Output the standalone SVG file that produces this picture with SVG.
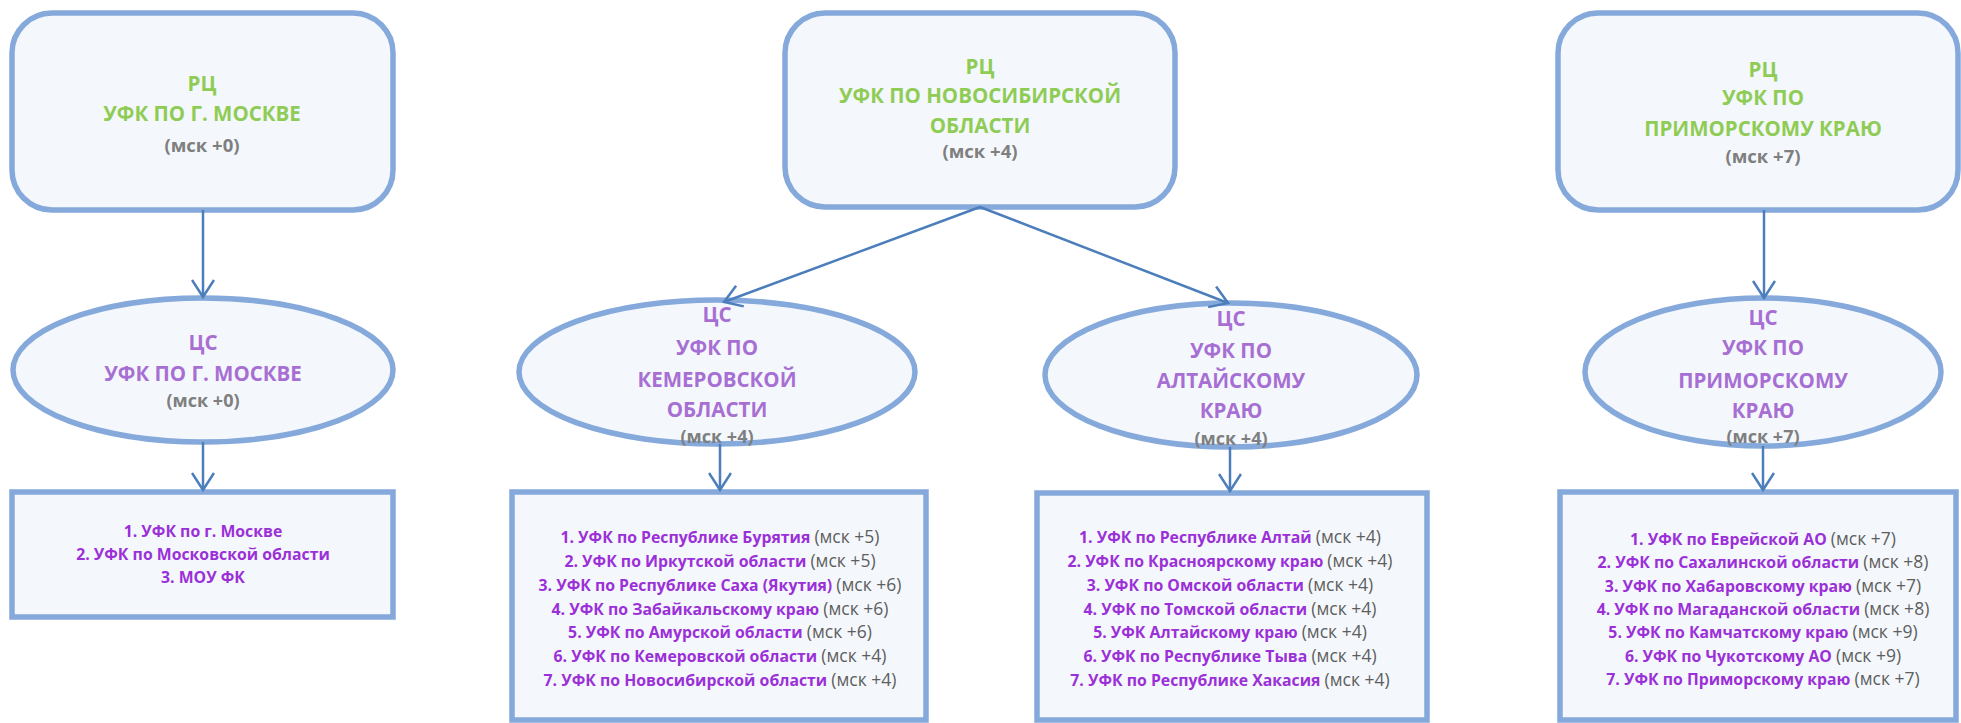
<svg xmlns="http://www.w3.org/2000/svg" width="1961" height="723" viewBox="0 0 1961 723">
<style>
.box{fill:#F4F8FC;stroke:#85A9DB;stroke-width:5.5}
.t{font-family:"Open Sans",Lato,sans-serif;text-anchor:middle;font-weight:700}
.g{fill:#8FCC55;font-size:20.5px}
.p{fill:#A76FD3;font-size:20.5px}
.m{fill:#7F7F7F;font-size:18.5px}
.me{fill:#7F7F7F;font-size:18px}
.l{fill:#9B30D8;font-size:15.8px}
.lg{fill:#5E5E5E;font-weight:400;font-size:17.5px}
.c{stroke:#4C7EBC;stroke-width:2.5;fill:none}
</style>
<defs>
<marker id="ah" viewBox="0 0 20 24" refX="18" refY="12" markerWidth="20" markerHeight="24" markerUnits="userSpaceOnUse" orient="auto">
<path d="M1,1 L18,12 L1,23" fill="none" stroke="#4C7EBC" stroke-width="2.5"/>
</marker>
</defs>
<rect width="1961" height="723" fill="#FFFFFF"/>

<g id="rc-moscow">
<rect class="box" x="12" y="13" width="381" height="197" rx="40"/>
<text class="t g" x="202" y="91">РЦ</text>
<text class="t g" x="202" y="121">УФК ПО Г. МОСКВЕ</text>
<text class="t m" x="202" y="152">(мск +0)</text>
</g>
<g id="rc-novosibirsk">
<rect class="box" x="785" y="13" width="390" height="194" rx="40"/>
<text class="t g" x="980" y="74">РЦ</text>
<text class="t g" x="980" y="103">УФК ПО НОВОСИБИРСКОЙ</text>
<text class="t g" x="980" y="133">ОБЛАСТИ</text>
<text class="t m" x="980" y="158">(мск +4)</text>
</g>
<g id="rc-primorsky">
<rect class="box" x="1558" y="13" width="400" height="197" rx="40"/>
<text class="t g" x="1763" y="77">РЦ</text>
<text class="t g" x="1763" y="105">УФК ПО</text>
<text class="t g" x="1763" y="136">ПРИМОРСКОМУ КРАЮ</text>
<text class="t m" x="1763" y="163">(мск +7)</text>
</g>

<g id="cs-moscow">
<ellipse class="box" cx="203" cy="370" rx="190" ry="72"/>
<text class="t p" x="203" y="350">ЦС</text>
<text class="t p" x="203" y="381">УФК ПО Г. МОСКВЕ</text>
<text class="t me" x="203" y="407">(мск +0)</text>
</g>
<g id="cs-kemerovo">
<ellipse class="box" cx="717" cy="372" rx="198" ry="72"/>
<text class="t p" x="717" y="322">ЦС</text>
<text class="t p" x="717" y="355">УФК ПО</text>
<text class="t p" x="717" y="387">КЕМЕРОВСКОЙ</text>
<text class="t p" x="717" y="417">ОБЛАСТИ</text>
<text class="t me" x="717" y="443">(мск +4)</text>
</g>
<g id="cs-altai">
<ellipse class="box" cx="1231" cy="375" rx="186" ry="72"/>
<text class="t p" x="1231" y="326">ЦС</text>
<text class="t p" x="1231" y="358">УФК ПО</text>
<text class="t p" x="1231" y="388">АЛТАЙСКОМУ</text>
<text class="t p" x="1231" y="418">КРАЮ</text>
<text class="t me" x="1231" y="445">(мск +4)</text>
</g>
<g id="cs-primorsky">
<ellipse class="box" cx="1763" cy="372" rx="178" ry="74"/>
<text class="t p" x="1763" y="325">ЦС</text>
<text class="t p" x="1763" y="355">УФК ПО</text>
<text class="t p" x="1763" y="388">ПРИМОРСКОМУ</text>
<text class="t p" x="1763" y="418">КРАЮ</text>
<text class="t me" x="1763" y="443">(мск +7)</text>
</g>

<g id="list-moscow">
<rect class="box" x="12" y="492" width="381" height="125"/>
<text class="t l" x="203" y="537">1. УФК по г. Москве</text>
<text class="t l" x="203" y="560">2. УФК по Московской области</text>
<text class="t l" x="203" y="583">3. МОУ ФК</text>
</g>
<g id="list-kemerovo">
<rect class="box" x="512" y="492" width="414" height="228"/>
<text class="t l" x="720" y="543">1. УФК по Республике Бурятия <tspan class="lg">(мск +5)</tspan></text>
<text class="t l" x="720" y="567">2. УФК по Иркутской области <tspan class="lg">(мск +5)</tspan></text>
<text class="t l" x="720" y="591">3. УФК по Республике Саха (Якутия) <tspan class="lg">(мск +6)</tspan></text>
<text class="t l" x="720" y="615">4. УФК по Забайкальскому краю <tspan class="lg">(мск +6)</tspan></text>
<text class="t l" x="720" y="638">5. УФК по Амурской области <tspan class="lg">(мск +6)</tspan></text>
<text class="t l" x="720" y="662">6. УФК по Кемеровской области <tspan class="lg">(мск +4)</tspan></text>
<text class="t l" x="720" y="686">7. УФК по Новосибирской области <tspan class="lg">(мск +4)</tspan></text>
</g>
<g id="list-altai">
<rect class="box" x="1037" y="493" width="390" height="227"/>
<text class="t l" x="1230" y="543">1. УФК по Республике Алтай <tspan class="lg">(мск +4)</tspan></text>
<text class="t l" x="1230" y="567">2. УФК по Красноярскому краю <tspan class="lg">(мск +4)</tspan></text>
<text class="t l" x="1230" y="591">3. УФК по Омской области <tspan class="lg">(мск +4)</tspan></text>
<text class="t l" x="1230" y="615">4. УФК по Томской области <tspan class="lg">(мск +4)</tspan></text>
<text class="t l" x="1230" y="638">5. УФК Алтайскому краю <tspan class="lg">(мск +4)</tspan></text>
<text class="t l" x="1230" y="662">6. УФК по Республике Тыва <tspan class="lg">(мск +4)</tspan></text>
<text class="t l" x="1230" y="686">7. УФК по Республике Хакасия <tspan class="lg">(мск +4)</tspan></text>
</g>
<g id="list-primorsky">
<rect class="box" x="1560" y="492" width="396" height="228"/>
<text class="t l" x="1763" y="545">1. УФК по Еврейской АО <tspan class="lg">(мск +7)</tspan></text>
<text class="t l" x="1763" y="568">2. УФК по Сахалинской области <tspan class="lg">(мск +8)</tspan></text>
<text class="t l" x="1763" y="592">3. УФК по Хабаровскому краю <tspan class="lg">(мск +7)</tspan></text>
<text class="t l" x="1763" y="615">4. УФК по Магаданской области <tspan class="lg">(мск +8)</tspan></text>
<text class="t l" x="1763" y="638">5. УФК по Камчатскому краю <tspan class="lg">(мск +9)</tspan></text>
<text class="t l" x="1763" y="662">6. УФК по Чукотскому АО <tspan class="lg">(мск +9)</tspan></text>
<text class="t l" x="1763" y="685">7. УФК по Приморскому краю <tspan class="lg">(мск +7)</tspan></text>
</g>

<g id="connectors">
<line class="c" x1="203" y1="210" x2="203" y2="297" marker-end="url(#ah)"/>
<line class="c" x1="980" y1="207" x2="724" y2="302" marker-end="url(#ah)"/>
<line class="c" x1="980" y1="207" x2="1228" y2="303" marker-end="url(#ah)"/>
<line class="c" x1="1764" y1="210" x2="1764" y2="298" marker-end="url(#ah)"/>
<line class="c" x1="203" y1="442" x2="203" y2="490" marker-end="url(#ah)"/>
<line class="c" x1="720" y1="444" x2="720" y2="490" marker-end="url(#ah)"/>
<line class="c" x1="1230" y1="447" x2="1230" y2="491" marker-end="url(#ah)"/>
<line class="c" x1="1763" y1="446" x2="1763" y2="490" marker-end="url(#ah)"/>
</g>
</svg>
